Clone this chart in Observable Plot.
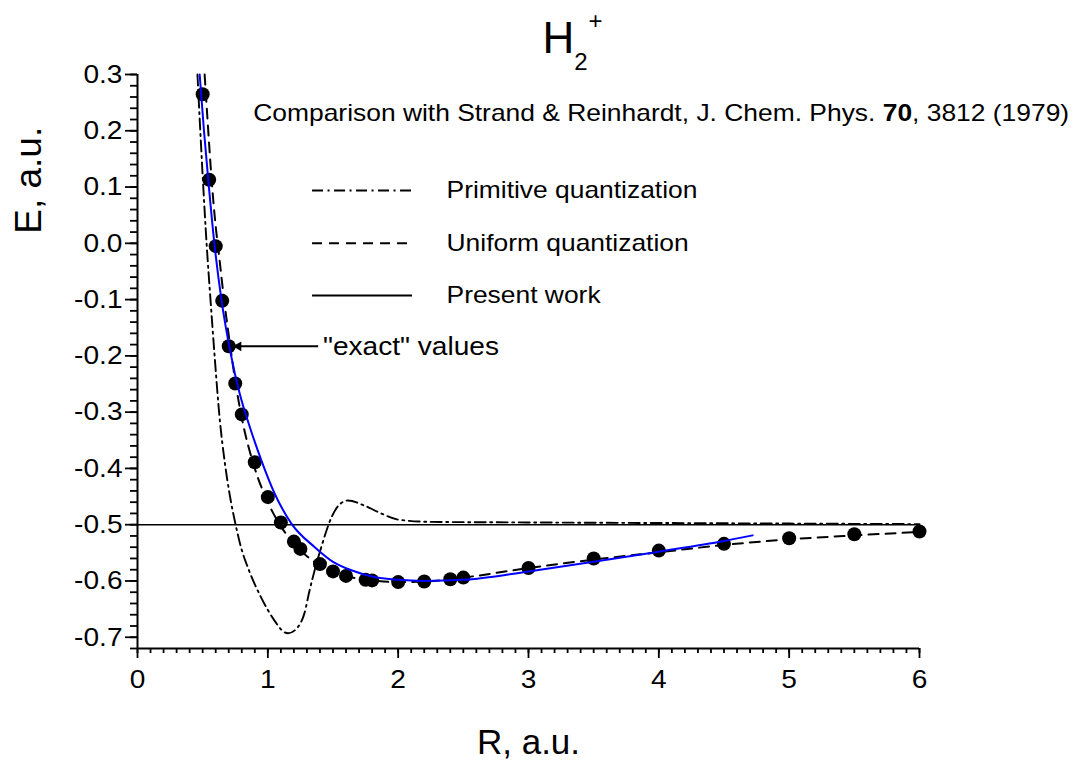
<!DOCTYPE html>
<html>
<head>
<meta charset="utf-8">
<script src="https://cdn.jsdelivr.net/npm/d3@7"></script>
<script src="https://cdn.jsdelivr.net/npm/@observablehq/plot@0.6"></script>
<style>
  html, body { margin: 0; padding: 0; background: #fff; }
  #chart svg { display: block; }
</style>
</head>
<body>
<div id="chart"></div>
<script>
// ---- "exact" values (dots)
const exactR = [0.5, 0.55, 0.6, 0.65, 0.7, 0.75, 0.8, 0.9, 1.0, 1.1, 1.2, 1.25, 1.4, 1.5, 1.6, 1.75, 1.8, 2.0, 2.2, 2.4, 2.5, 3.0, 3.5, 4.0, 4.5, 5.0, 5.5, 6.0];
const exactE = [0.265, 0.113, -0.005, -0.102, -0.183, -0.249, -0.304, -0.389, -0.451, -0.496, -0.530, -0.543, -0.570, -0.583, -0.591, -0.598, -0.599, -0.602, -0.601, -0.597, -0.594, -0.577, -0.560, -0.546, -0.534, -0.524, -0.517, -0.512];

// ---- Primitive quantization (dash-dot)
const primR = [0.46, 0.50, 0.53, 0.56, 0.59, 0.63, 0.67, 0.71, 0.75, 0.80, 0.85, 0.95, 1.05, 1.12, 1.155, 1.23, 1.28, 1.32, 1.41, 1.49, 1.56, 1.615, 1.74, 1.87, 2.0, 2.25, 3.0, 4.0, 5.0, 6.0];
const primE = [0.30, 0.12, 0.0, -0.10, -0.195, -0.31, -0.39, -0.45, -0.497, -0.545, -0.578, -0.63, -0.67, -0.69, -0.693, -0.682, -0.658, -0.617, -0.54, -0.486, -0.462, -0.457, -0.466, -0.480, -0.491, -0.495, -0.496, -0.497, -0.498, -0.499];

// ---- Uniform quantization (dashed)
const unifR = [0.515, 0.54, 0.567, 0.60, 0.625, 0.664, 0.71, 0.75, 0.80, 0.90, 1.0, 1.1, 1.2, 1.3, 1.4, 1.5, 1.6, 1.8, 2.0, 2.2, 2.5, 3.0, 3.5, 4.0, 4.5, 5.0, 5.5, 6.0];
const unifE = [0.30, 0.21, 0.118, 0.03, -0.02, -0.10, -0.18, -0.245, -0.31, -0.40, -0.46, -0.503, -0.533, -0.556, -0.572, -0.583, -0.591, -0.599, -0.602, -0.601, -0.594, -0.577, -0.562, -0.549, -0.536, -0.526, -0.519, -0.513];

// ---- Present work (blue solid)
const presR = [0.477, 0.51, 0.542, 0.592, 0.644, 0.715, 0.784, 0.861, 0.951, 1.053, 1.181, 1.36, 1.5, 1.641, 1.8, 2.0, 2.2, 2.5, 3.0, 3.5, 4.0, 4.5, 4.72];
const presE = [0.30, 0.20, 0.115, -0.005, -0.10, -0.196, -0.267, -0.326, -0.386, -0.445, -0.498, -0.540, -0.566, -0.581, -0.592, -0.598, -0.600, -0.598, -0.583, -0.566, -0.548, -0.529, -0.519];

// ---- Ticks
const xMajor = [0, 1, 2, 3, 4, 5, 6];
const xTickLabels = ["0", "1", "2", "3", "4", "5", "6"];
const yMajor = [0.3, 0.2, 0.1, 0.0, -0.1, -0.2, -0.3, -0.4, -0.5, -0.6, -0.7];
const yTickLabels = ["0.3", "0.2", "0.1", "0.0", "-0.1", "-0.2", "-0.3", "-0.4", "-0.5", "-0.6", "-0.7"];
const xMinor = d3.range(0, 61).map(i => i / 10);
const yMinor = d3.range(-36, 16).map(i => i * 0.02);

// ---- Texts
const titleText = "H2+";
const subtitleParts = ["Comparison with Strand & Reinhardt, J. Chem. Phys. ", "70", ", 3812 (1979)"];
const legendLabels = ["Primitive quantization", "Uniform quantization", "Present work"];
const exactLabel = "\"exact\" values";
const xLabel = "R, a.u.";
const yLabel = "E, a.u.";

const toRows = (R, E) => R.map((r, i) => ({R: r, E: E[i]}));
const exact = toRows(exactR, exactE);
const primitive = toRows(primR, primE);
const uniform = toRows(unifR, unifE);
const present = toRows(presR, presE);
const subtitleFull = subtitleParts.join("");

// annotation anchors (data units)
const legRowE = [0.094, 0.0, -0.0925];
const legX1 = 1.343, legX2 = 2.11, legTextX = 2.371;

const dashDot = "11,4.5,2,4.5";
const dashed = "10,7";

const svg = Plot.plot({
  width: 1078,
  height: 761,
  marginLeft: 137,
  marginRight: 159,
  marginTop: 74,
  marginBottom: 113,
  x: {domain: [0, 6]},
  y: {domain: [-0.72, 0.3]},
  style: {fontFamily: "'Liberation Sans', Arial, sans-serif", background: "#fff", color: "#000", overflow: "visible"},
  marks: [
    // axes lines
    Plot.ruleX([0], {y1: -0.72, y2: 0.3, stroke: "#000", strokeWidth: 2}),
    Plot.ruleY([-0.72], {x1: 0, x2: 6, stroke: "#000", strokeWidth: 2}),
    // minor ticks
    Plot.axisX({ticks: xMinor, tickSize: 5, tickFormat: () => "", label: null, strokeWidth: 1.8}),
    Plot.axisY({ticks: yMinor, tickSize: 7, tickFormat: () => "", label: null, strokeWidth: 1.8}),
    // major ticks
    Plot.axisX({ticks: xMajor, tickSize: 10, tickPadding: 11, tickFormat: (d) => xTickLabels[xMajor.indexOf(d)], label: null, fontSize: 26, strokeWidth: 1.8}),
    Plot.axisY({ticks: yMajor, tickSize: 12, tickPadding: 3, tickFormat: (d) => yTickLabels[yMajor.indexOf(d)], label: null, fontSize: 26, strokeWidth: 1.8}),
    // reference line at -0.5
    Plot.ruleY([-0.5], {stroke: "#000", strokeWidth: 1.4}),
    // curves
    Plot.line(primitive, {x: "R", y: "E", curve: "monotone-x", stroke: "#000", strokeWidth: 1.9, strokeDasharray: dashDot}),
    Plot.line(uniform, {x: "R", y: "E", curve: "monotone-x", stroke: "#000", strokeWidth: 2, strokeDasharray: dashed}),
    Plot.dot(exact, {x: "R", y: "E", r: 7, fill: "#000", stroke: null}),
    Plot.line(present, {x: "R", y: "E", curve: "monotone-x", stroke: "#0000ff", strokeWidth: 2}),
    // legend samples
    Plot.ruleY([legRowE[0]], {x1: legX1, x2: legX2, stroke: "#000", strokeWidth: 1.9, strokeDasharray: dashDot}),
    Plot.ruleY([legRowE[1]], {x1: legX1, x2: legX2, stroke: "#000", strokeWidth: 2, strokeDasharray: dashed}),
    Plot.ruleY([legRowE[2]], {x1: legX1, x2: legX2, stroke: "#000", strokeWidth: 2}),
    Plot.text(legendLabels, {x: legTextX, y: (d, i) => legRowE[i], text: d => d, textAnchor: "start", lineAnchor: "middle", fontSize: 24, fill: "#000"}),
    // "exact" values arrow
    Plot.ruleY([exactE[4]], {x1: 0.78, x2: 1.39, stroke: "#000", strokeWidth: 2}),
    Plot.dot([exactE[4]], {x: 0.775, y: d => d, symbol: "triangle", r: 3.6, rotate: -90, fill: "#000", stroke: null}),
    Plot.text([exactLabel], {x: 1.423, y: exactE[4], text: d => d, textAnchor: "start", lineAnchor: "middle", fontSize: 26, fill: "#000"}),
    // title & subtitle
    Plot.text([titleText], {x: 3.107, y: 0.339, text: d => d, textAnchor: "start", lineAnchor: "bottom", fontSize: 44, fill: "#000"}),
    Plot.text([subtitleFull], {x: 0.888, y: 0.2165, text: d => d, textAnchor: "start", lineAnchor: "bottom", fontSize: 24, fill: "#000"}),
    // axis titles
    Plot.text([xLabel], {x: 3.0, y: -0.888, text: d => d, textAnchor: "middle", lineAnchor: "middle", fontSize: 35, fill: "#000"}),
    Plot.text([yLabel], {x: -0.834, y: 0.112, text: d => d, textAnchor: "middle", lineAnchor: "middle", rotate: -90, fontSize: 37, fill: "#000"})
  ]
});

document.getElementById("chart").append(svg);

const root = d3.select(svg);
// Title with subscript / superscript
root.selectAll("text").filter(function() { return this.textContent === titleText; }).each(function() {
  const t = d3.select(this);
  t.text(null);
  t.append("tspan").text(titleText[0]);
  t.append("tspan").attr("font-size", 24).attr("dy", 17.6).text(titleText[1]);
  t.append("tspan").attr("font-size", 24).attr("dy", -41.3).attr("dx", 0.8).text(titleText[2]);
});
// Subtitle with bold volume number
root.selectAll("text").filter(function() { return this.textContent === subtitleFull; }).each(function() {
  const t = d3.select(this);
  t.text(null);
  t.append("tspan").text(subtitleParts[0]);
  t.append("tspan").attr("font-weight", "bold").text(subtitleParts[1]);
  t.append("tspan").text(subtitleParts[2]);
});

// horizontal stretch of the wide-set texts
function stretch(filterFn, k) {
  root.selectAll("text").filter(function() { return filterFn(this.textContent); }).each(function() {
    const L = this.getComputedTextLength();
    if (L > 0) {
      this.setAttribute("textLength", (L * k).toFixed(2));
      this.setAttribute("lengthAdjust", "spacingAndGlyphs");
    }
  });
}
stretch(s => xTickLabels.includes(s) || yTickLabels.includes(s), 1.08);
stretch(s => legendLabels.includes(s) || s === subtitleFull, 1.1);
stretch(s => s === exactLabel, 1.08);
</script>
</body>
</html>
